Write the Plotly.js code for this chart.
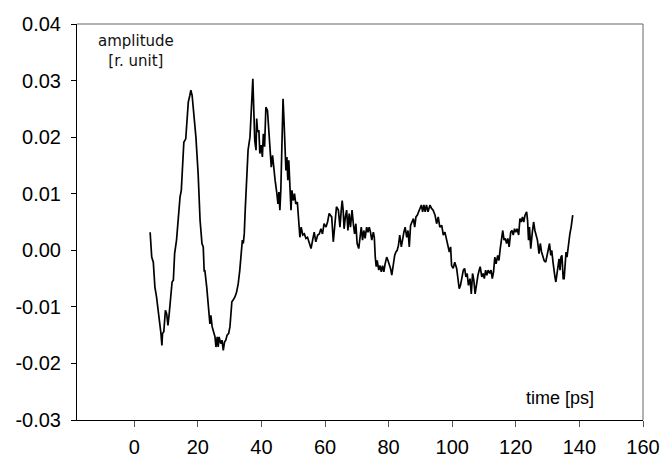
<!DOCTYPE html>
<html>
<head>
<meta charset="utf-8">
<script src="https://cdn.plot.ly/plotly-3.0.1.min.js"></script>
<style>html,body{margin:0;padding:0;background:#fff;}#chart{width:663px;height:459px;}</style>
</head>
<body>
<div id="chart"></div>
<script>
var time = [
5.0,5.5,6.0,6.5,7.0,7.5,8.1,8.4,8.7,8.9,9.3,9.8,10.2,10.6,11.0,11.5,11.9,12.3,12.7,13.3,13.8,14.4,14.8,15.2,15.6,16.2,16.7,17.0,17.5,17.8,18.2,18.8,19.4,20.1,20.7,21.3,21.7,22.0,
22.2,22.8,23.3,23.8,24.1,24.5,25.1,25.4,25.7,26.1,26.4,26.7,27.2,27.6,28.0,28.4,28.8,29.2,29.7,30.1,30.5,30.7,31.1,31.7,32.2,32.7,33.2,33.5,34.0,34.3,34.6,34.9,35.3,35.8,36.4,36.7,37.0,37.3,37.6,37.9,38.3,38.5,38.8,39.2,39.5,39.9,40.3,40.6,41.0,41.4,41.9,42.3,42.7,43.1,43.5,43.9,44.3,44.8,45.2,45.5,45.8,46.1,46.4,46.8,47.1,47.4,47.7,48.0,48.3,48.6,48.9,49.3,49.6,50.0,50.4,50.8,51.3,51.7,52.1,52.5,53.0,53.5,54.0,54.5,55.0,55.6,56.1,56.6,57.1,57.7,58.2,58.7,59.2,59.7,60.3,60.8,61.3,
62.1,62.6,63.1,63.6,64.2,64.7,65.1,65.4,65.7,66.0,66.4,66.8,67.2,67.6,68.0,68.5,68.9,69.3,69.7,70.1,70.6,71.0,71.4,71.8,72.2,72.6,73.1,73.5,73.9,74.3,74.7,75.2,75.5,75.8,76.1,76.4,76.9,77.3,77.7,78.1,78.5,78.9,79.4,79.8,80.2,80.6,81.0,81.4,81.9,82.3,82.7,83.1,83.5,84.0,84.4,84.8,85.2,85.7,86.1,86.5,86.9,87.3,87.8,88.2,88.6,89.0,89.4,89.8,90.3,90.7,91.1,91.5,91.9,92.4,93.0,
93.5,94.0,94.6,95.1,95.6,96.1,96.7,97.2,97.7,98.2,98.7,99.1,99.5,99.8,100.3,100.8,101.4,101.8,102.2,102.6,103.0,103.5,103.9,104.3,104.7,105.1,105.6,106.0,106.4,106.8,107.2,107.7,108.1,108.5,108.8,109.3,109.7,110.1,110.5,110.9,111.3,111.8,112.2,112.6,113.0,113.4,113.8,114.3,114.7,115.1,115.5,115.9,116.3,116.7,117.1,117.5,117.9,118.4,118.8,119.2,119.6,120.0,120.4,120.9,121.3,121.7,122.1,122.5,122.9,123.4,123.7,124.0,124.3,124.7,125.2,125.6,126.0,126.4,126.8,127.3,127.7,128.1,128.5,128.9,129.4,129.8,130.2,130.6,131.0,131.3,131.7,132.0,132.3,132.6,132.9,133.3,133.6,133.9,134.2,134.5,134.9,135.2,135.5,135.8,136.1,136.4,136.7,137.0,137.4,137.9
];
var amplitude = [
0.0032,-0.0012,-0.0021,-0.0065,-0.0082,-0.0106,-0.0124,-0.0147,-0.0168,-0.0147,-0.0144,-0.0106,-0.0112,-0.0133,-0.0112,-0.0077,-0.0056,-0.0053,-0.0006,0.0018,0.0053,0.0094,0.0106,0.0147,0.0191,0.0197,0.0236,0.0262,0.0274,0.0283,0.0274,0.0242,0.0200,0.0135,0.0053,0.0012,0.0006,-0.0038,
-0.0035,-0.0065,-0.0094,-0.0130,-0.0115,-0.0135,-0.0147,-0.0153,-0.0171,-0.0153,-0.0171,-0.0153,-0.0165,-0.0159,-0.0177,-0.0162,-0.0159,-0.0150,-0.0147,-0.0135,-0.0106,-0.0091,-0.0088,-0.0082,-0.0074,-0.0059,-0.0035,-0.0018,0.0018,0.0012,0.0029,0.0071,0.0130,0.0177,0.0200,0.0242,0.0283,0.0303,0.0247,0.0194,0.0177,0.0233,0.0209,0.0212,0.0171,0.0186,0.0165,0.0206,0.0183,0.0253,0.0247,0.0215,0.0188,0.0147,0.0168,0.0141,0.0124,0.0103,0.0082,0.0103,0.0071,0.0106,0.0188,0.0268,0.0230,0.0171,0.0141,0.0165,0.0124,0.0159,0.0130,0.0071,0.0106,0.0088,0.0100,0.0082,0.0085,0.0041,0.0023,0.0041,0.0027,0.0029,0.0021,0.0023,0.0015,0.0003,0.0018,0.0032,0.0015,0.0027,0.0029,0.0038,0.0029,0.0047,0.0041,0.0050,0.0065,
0.0059,0.0015,0.0053,0.0077,0.0071,0.0041,0.0071,0.0088,0.0071,0.0038,0.0059,0.0071,0.0035,0.0065,0.0041,0.0071,0.0047,0.0029,0.0047,0.0012,0.0003,0.0027,0.0041,0.0018,0.0035,0.0021,0.0041,0.0032,0.0041,0.0032,0.0018,0.0032,0.0023,-0.0012,-0.0029,-0.0018,-0.0035,-0.0027,-0.0038,-0.0027,-0.0038,-0.0024,-0.0012,-0.0018,-0.0024,-0.0032,-0.0044,-0.0029,-0.0009,-0.0003,0.0000,0.0009,0.0027,0.0006,0.0023,0.0032,0.0041,0.0023,0.0035,0.0006,0.0044,0.0050,0.0056,0.0041,0.0059,0.0062,0.0068,0.0074,0.0080,0.0068,0.0080,0.0068,0.0080,0.0068,0.0080,
0.0074,0.0071,0.0062,0.0047,0.0059,0.0041,0.0044,0.0027,0.0032,0.0018,0.0006,-0.0003,0.0006,-0.0027,-0.0032,-0.0021,-0.0032,-0.0050,-0.0068,-0.0062,-0.0050,-0.0035,-0.0032,-0.0047,-0.0041,-0.0062,-0.0050,-0.0077,-0.0041,-0.0053,-0.0077,-0.0053,-0.0044,-0.0035,-0.0029,-0.0047,-0.0041,-0.0050,-0.0035,-0.0044,-0.0035,-0.0041,-0.0035,-0.0050,-0.0038,-0.0012,-0.0024,-0.0009,-0.0018,0.0003,0.0018,0.0035,0.0018,0.0021,0.0012,0.0021,0.0006,0.0032,0.0035,0.0027,0.0038,0.0032,0.0038,0.0027,0.0056,0.0050,0.0059,0.0050,0.0062,0.0068,0.0053,0.0018,0.0041,0.0003,0.0032,0.0050,0.0035,0.0023,0.0018,-0.0006,0.0012,-0.0003,-0.0009,-0.0018,-0.0021,-0.0009,0.0006,0.0012,-0.0009,0.0000,-0.0021,-0.0038,-0.0047,-0.0056,-0.0044,-0.0024,-0.0015,-0.0035,-0.0012,-0.0009,-0.0050,-0.0050,-0.0015,-0.0003,-0.0012,0.0006,0.0015,0.0029,0.0041,0.0062
];
var xTickVals = [0,20,40,60,80,100,120,140,160];
var xTickText = ["0","20","40","60","80","100","120","140","160"];
var yTickVals = [-0.03,-0.02,-0.01,0,0.01,0.02,0.03,0.04];
var yTickText = ["-0.03","-0.02","-0.01","0.00","0.01","0.02","0.03","0.04"];

var trace = {
  x: time, y: amplitude, type: 'scatter', mode: 'lines',
  line: {color: '#000', width: 1.7},
  hoverinfo: 'skip'
};
var layout = {
  width: 663, height: 459,
  margin: {l: 77, r: 20, t: 24, b: 39, pad: 0},
  paper_bgcolor: '#fff', plot_bgcolor: '#fff',
  showlegend: false,
  font: {family: 'Liberation Sans, Arial, sans-serif', color: '#000'},
  xaxis: {
    range: [-18, 160], tickmode: 'array', tickvals: xTickVals, ticktext: xTickText,
    ticks: 'outside', ticklen: 6, tickcolor: '#555', tickwidth: 1,
    showline: true, linecolor: '#000', linewidth: 1,
    showgrid: false, zeroline: false, automargin: false,
    tickfont: {size: 20, family: 'Liberation Sans, Arial, sans-serif', color: '#000'},
    ticklabelstandoff: 3
  },
  yaxis: {
    range: [-0.03, 0.04], tickmode: 'array', tickvals: yTickVals, ticktext: yTickText,
    ticks: 'outside', ticklen: 5, tickcolor: '#000', tickwidth: 1,
    showline: true, linecolor: '#000', linewidth: 1,
    showgrid: false, zeroline: false, automargin: false,
    tickfont: {size: 20, family: 'Liberation Sans, Arial, sans-serif', color: '#000'},
    ticklabelstandoff: 6
  },
  shapes: [
    {type: 'line', xref: 'paper', yref: 'paper', x0: 0, x1: 1, y0: 1, y1: 1, line: {color: '#666', width: 1}},
    {type: 'line', xref: 'paper', yref: 'paper', x0: 1, x1: 1, y0: 0, y1: 1, line: {color: '#666', width: 1}}
  ],
  annotations: [
    {xref: 'paper', yref: 'paper', x: 0.1042, y: 0.9306, xanchor: 'center', yanchor: 'middle',
     text: 'amplitude<br>[r. unit]', showarrow: false, align: 'center',
     font: {family: 'DejaVu Sans, sans-serif', size: 15, color: '#111'}},
    {xref: 'paper', yref: 'paper', x: 0.8542, y: 0.0556, xanchor: 'center', yanchor: 'middle',
     text: 'time [ps]', showarrow: false,
     font: {family: 'Liberation Sans, Arial, sans-serif', size: 18, color: '#000'}}
  ]
};
Plotly.newPlot('chart', [trace], layout, {displayModeBar: false, staticPlot: true});
</script>
</body>
</html>
